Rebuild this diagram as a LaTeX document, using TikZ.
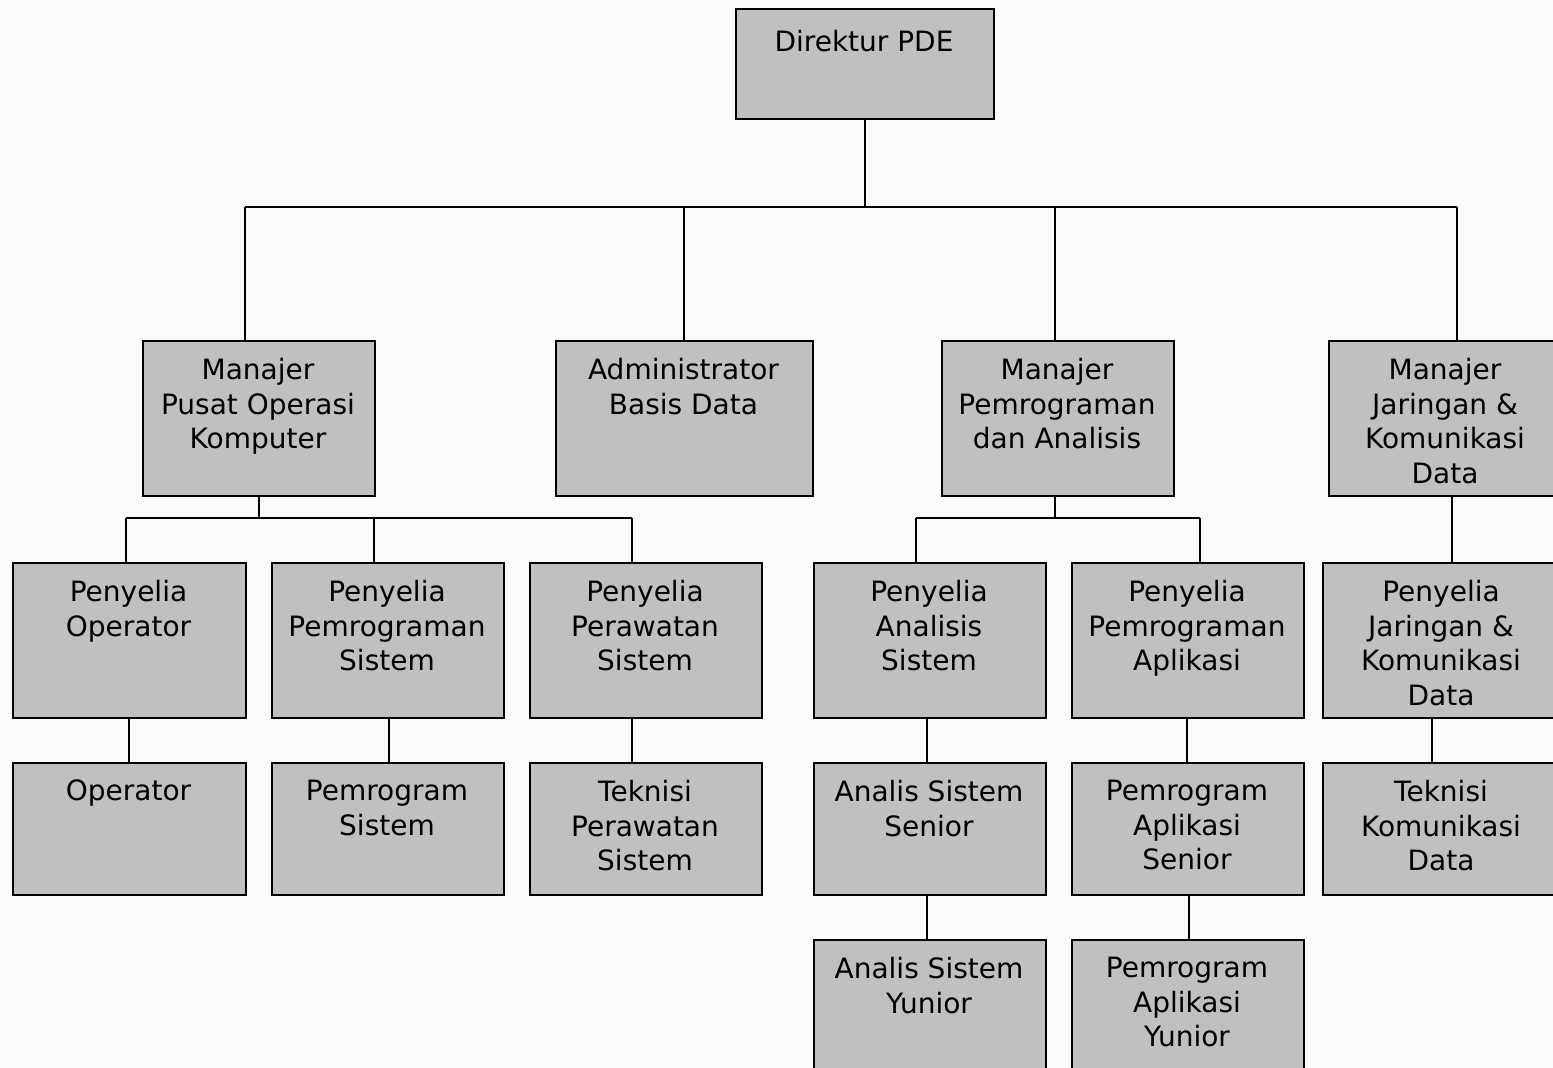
\documentclass[tikz,border=0pt]{standalone}
\usepackage{fontspec}
\setmainfont{DejaVu Sans}
\definecolor{boxgray}{HTML}{C0C0C0}
\definecolor{bggray}{HTML}{FBFBFB}
\newcommand\orgboxoff[7]{%
  \node[box, minimum width={#4-#2}, minimum height={#5-#3}] (#1) at (#2,#3) {};
  \node[lbl] (#1t) at ({(#2+#4)/2},{#3+#7}) {#6};}
\newcommand\orgbox[6]{\orgboxoff{#1}{#2}{#3}{#4}{#5}{#6}{18}}
\begin{document}
\begin{tikzpicture}[x=1pt,y=-1pt,
  box/.style={draw=black, line width=2pt, fill=boxgray, inner sep=0pt, anchor=north west},
  lbl/.style={anchor=north, inner sep=0pt, align=center, font=\fontsize{28}{34.6}\selectfont},
  conn/.style={line width=2.2pt, draw=black}]
\fill[bggray] (0,0) rectangle (1553,1068);
\useasboundingbox (0,0) rectangle (1553,1068);
% level 1
\orgboxoff{dir}{735}{8}{993}{118}{Direktur PDE}{22}
% level 2
\orgbox{mA}{142}{340}{374}{495}{Manajer\\Pusat Operasi\\Komputer}
\orgbox{mB}{555}{340}{812}{495}{Administrator\\Basis Data}
\orgbox{mC}{941}{340}{1173}{495}{Manajer\\Pemrograman\\dan Analisis}
\orgbox{mD}{1328}{340}{1562}{495}{Manajer\\Jaringan \&\\Komunikasi\\Data}
% level 3
\orgbox{sOp}{12}{562}{245}{717}{Penyelia\\Operator}
\orgbox{sPs}{271}{562}{503}{717}{Penyelia\\Pemrograman\\Sistem}
\orgbox{sPw}{529}{562}{761}{717}{Penyelia\\Perawatan\\Sistem}
\orgbox{sAn}{813}{562}{1045}{717}{Penyelia\\Analisis\\Sistem}
\orgbox{sPa}{1071}{562}{1303}{717}{Penyelia\\Pemrograman\\Aplikasi}
\orgbox{sJk}{1322}{562}{1560}{717}{Penyelia\\Jaringan \&\\Komunikasi\\Data}
% level 4
\orgbox{op}{12}{762}{245}{894}{Operator}
\orgbox{ps}{271}{762}{503}{894}{Pemrogram\\Sistem}
\orgbox{tp}{529}{762}{761}{894}{Teknisi\\Perawatan\\Sistem}
\orgbox{asS}{813}{762}{1045}{894}{Analis Sistem\\Senior}
\orgbox{paS}{1071}{762}{1303}{894}{Pemrogram\\Aplikasi\\Senior}
\orgbox{tk}{1322}{762}{1560}{894}{Teknisi\\Komunikasi\\Data}
% level 5
\orgbox{asY}{813}{939}{1045}{1080}{Analis Sistem\\Yunior}
\orgbox{paY}{1071}{939}{1303}{1080}{Pemrogram\\Aplikasi\\Yunior}
% bus coordinates
\coordinate (busL) at (245,207);
\coordinate (busR) at (1457,207);
\coordinate (bX) at (684,207);
\coordinate (cX) at (1055,207);
\coordinate (aL) at (126,518);
\coordinate (aM) at (374,518);
\coordinate (aR) at (632,518);
\coordinate (cL) at (916,518);
\coordinate (cR) at (1200,518);
\coordinate (dX) at (1452,518);
\coordinate (x1) at (129,740);
\coordinate (x2) at (389,740);
\coordinate (x3) at (927,740);
\coordinate (x4) at (1187,740);
\coordinate (tX) at (1432,740);
\coordinate (pX) at (1189,900);
% connectors level 1-2
\draw[conn] (dir.south) -- (dir.south |- busL);
\draw[conn] (busL) -- (busR);
\draw[conn] (busL) -- (busL |- mA.north);
\draw[conn] (bX) -- (bX |- mB.north);
\draw[conn] (cX) -- (cX |- mC.north);
\draw[conn] (busR) -- (busR |- mD.north);
% under A
\draw[conn] (mA.south) -- (mA.south |- aL);
\draw[conn] (aL) -- (aR);
\draw[conn] (aL) -- (aL |- sOp.north);
\draw[conn] (aM) -- (aM |- sPs.north);
\draw[conn] (aR) -- (aR |- sPw.north);
% under C
\draw[conn] (mC.south -| cX) -- (cL -| cX);
\draw[conn] (cL) -- (cR);
\draw[conn] (cL) -- (cL |- sAn.north);
\draw[conn] (cR) -- (cR |- sPa.north);
% under D
\draw[conn] (mD.south -| dX) -- (sJk.north -| dX);
% level 3-4
\draw[conn] (sOp.south -| x1) -- (op.north -| x1);
\draw[conn] (sPs.south -| x2) -- (ps.north -| x2);
\draw[conn] (sPw.south -| aR) -- (tp.north -| aR);
\draw[conn] (sAn.south -| x3) -- (asS.north -| x3);
\draw[conn] (sPa.south -| x4) -- (paS.north -| x4);
\draw[conn] (sJk.south -| tX) -- (tk.north -| tX);
% level 4-5
\draw[conn] (asS.south -| x3) -- (asY.north -| x3);
\draw[conn] (paS.south -| pX) -- (paY.north -| pX);
\end{tikzpicture}
\end{document}
